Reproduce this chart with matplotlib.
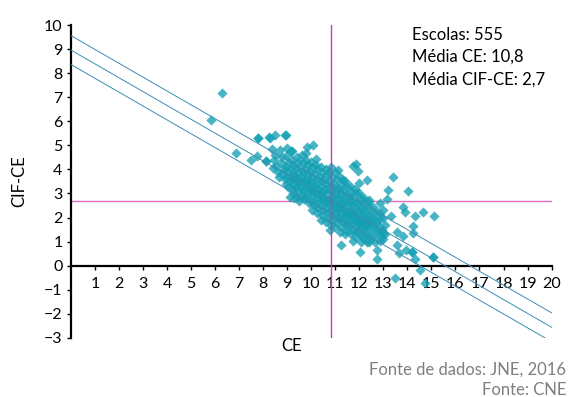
import matplotlib
matplotlib.use('Agg')
import matplotlib.pyplot as plt

plt.rcParams['font.family'] = ['Lato', 'DejaVu Sans']

# schools far from the main cloud (CE, CIF-CE)
upper_left = [
    (6.27, 7.17), (5.83, 6.06), (6.85, 4.70), (7.50, 4.41), (7.77, 5.32),
    (7.77, 5.32), (7.74, 4.56), (8.11, 4.33), (8.11, 4.33), (8.25, 5.34),
    (8.30, 5.30), (8.50, 5.42), (8.91, 5.44), (8.38, 4.85), (8.93, 5.42),
    (10.08, 5.03), (9.81, 4.91), (9.14, 4.77),
]
upper_right = [
    (11.12, 3.98), (11.72, 4.16), (11.86, 4.22), (11.96, 3.93), (11.33, 3.57),
    (12.33, 3.54), (12.00, 3.43), (13.41, 3.69), (13.20, 3.15), (14.04, 3.11),
    (12.41, 2.73), (12.86, 2.60), (13.16, 2.77), (13.80, 2.44), (13.91, 2.21),
    (14.30, 2.05), (14.66, 2.21), (15.12, 2.05), (13.00, 2.30), (13.32, 2.05),
]
lower_right = [
    (14.25, 1.66), (14.22, 1.36), (13.55, 1.38), (13.83, 1.22), (13.55, 0.87),
    (13.66, 0.53), (13.94, 0.66), (14.18, 0.55), (14.18, 0.55), (14.32, 0.29),
    (15.08, 0.34), (15.08, 0.34), (14.52, -0.19), (13.48, -0.51), (14.73, -0.72),
    (12.72, 0.66), (12.72, 0.29), (12.03, 0.55), (11.24, 0.84), (10.78, 1.49),
    (11.72, 1.01), (12.86, 1.01), (12.97, 1.36),
]
core = [
    (8.45, 4.40), (8.55, 4.15), (8.60, 3.90), (8.50, 4.60), (8.65, 3.70), (8.40, 4.05),
    (8.80, 4.50), (8.75, 4.25), (8.85, 4.00), (8.80, 3.80), (8.90, 3.60), (8.70, 4.80), (8.95, 3.40),
    (9.00, 4.60), (9.05, 4.30), (8.95, 4.10), (9.05, 3.90), (9.00, 3.70), (9.10, 3.50),
    (9.05, 3.25), (9.10, 2.85), (9.00, 4.90),
    (9.20, 4.40), (9.25, 4.20), (9.15, 4.00), (9.25, 3.80), (9.20, 3.60), (9.30, 3.40),
    (9.20, 3.20), (9.25, 3.00), (9.30, 2.80), (9.20, 4.75),
    (9.40, 4.50), (9.45, 4.30), (9.35, 4.05), (9.45, 3.85), (9.40, 3.65), (9.50, 3.45),
    (9.35, 3.25), (9.45, 3.05), (9.40, 2.85), (9.50, 2.70),
    (9.60, 4.60), (9.65, 4.30), (9.55, 4.10), (9.65, 3.90), (9.60, 3.70), (9.70, 3.50),
    (9.55, 3.30), (9.65, 3.10), (9.60, 2.90), (9.70, 2.75),
    (9.80, 4.40), (9.85, 4.20), (9.75, 4.00), (9.85, 3.80), (9.80, 3.60), (9.90, 3.40),
    (9.75, 3.20), (9.85, 3.00), (9.80, 2.80), (9.90, 2.60), (9.80, 4.70),
    (10.00, 4.30), (10.05, 4.10), (9.95, 3.90), (10.05, 3.70), (10.00, 3.50), (10.10, 3.30),
    (9.95, 3.10), (10.05, 2.90), (10.00, 2.70), (10.10, 2.50), (10.05, 2.30),
    (10.20, 4.20), (10.25, 4.00), (10.15, 3.80), (10.25, 3.60), (10.20, 3.40), (10.30, 3.20),
    (10.15, 3.00), (10.25, 2.80), (10.20, 2.60), (10.30, 2.40), (10.25, 2.20), (10.20, 4.45),
    (10.40, 4.10), (10.45, 3.90), (10.35, 3.70), (10.45, 3.50), (10.40, 3.30), (10.50, 3.10),
    (10.35, 2.90), (10.45, 2.70), (10.40, 2.50), (10.50, 2.30), (10.45, 2.10), (10.40, 1.90),
    (10.60, 4.00), (10.65, 3.80), (10.55, 3.60), (10.65, 3.40), (10.60, 3.20), (10.70, 3.00),
    (10.55, 2.80), (10.65, 2.60), (10.60, 2.40), (10.70, 2.20), (10.65, 2.00), (10.60, 1.80),
    (10.80, 4.10), (10.85, 3.70), (10.75, 3.50), (10.85, 3.30), (10.80, 3.10), (10.90, 2.90),
    (10.75, 2.70), (10.85, 2.50), (10.80, 2.30), (10.90, 2.10), (10.85, 1.90), (10.80, 1.70),
    (10.75, 3.90),
    (11.00, 3.90), (11.05, 3.60), (10.95, 3.40), (11.05, 3.20), (11.00, 3.00), (11.10, 2.80),
    (10.95, 2.60), (11.05, 2.40), (11.00, 2.20), (11.10, 2.00), (11.05, 1.80), (11.00, 1.60),
    (11.20, 3.70), (11.25, 3.40), (11.15, 3.20), (11.25, 3.00), (11.20, 2.80), (11.30, 2.60),
    (11.15, 2.40), (11.25, 2.20), (11.20, 2.00), (11.30, 1.80), (11.25, 1.60), (11.20, 1.40),
    (11.40, 3.50), (11.45, 3.30), (11.35, 3.10), (11.45, 2.90), (11.40, 2.70), (11.50, 2.50),
    (11.35, 2.30), (11.45, 2.10), (11.40, 1.90), (11.50, 1.70), (11.45, 1.50), (11.40, 1.30),
    (11.60, 3.30), (11.65, 3.10), (11.55, 2.90), (11.65, 2.70), (11.60, 2.50), (11.70, 2.30),
    (11.55, 2.10), (11.65, 1.90), (11.60, 1.70), (11.70, 1.50), (11.65, 1.30),
    (11.80, 3.20), (11.85, 3.00), (11.75, 2.80), (11.85, 2.60), (11.80, 2.40), (11.90, 2.20),
    (11.75, 2.00), (11.85, 1.80), (11.80, 1.60), (11.90, 1.40), (11.85, 1.20),
    (12.00, 3.00), (12.05, 2.80), (11.95, 2.60), (12.05, 2.40), (12.00, 2.20), (12.10, 2.00),
    (11.95, 1.80), (12.05, 1.60), (12.00, 1.40), (12.10, 1.20), (12.05, 1.00),
    (12.20, 2.80), (12.25, 2.60), (12.15, 2.40), (12.25, 2.20), (12.20, 2.00), (12.30, 1.80),
    (12.15, 1.60), (12.25, 1.40), (12.20, 1.20), (12.30, 1.00),
    (12.40, 2.60), (12.45, 2.40), (12.35, 2.20), (12.45, 2.00), (12.40, 1.80), (12.50, 1.60),
    (12.35, 1.40), (12.45, 1.20), (12.40, 1.00),
    (12.60, 2.40), (12.65, 2.20), (12.55, 2.00), (12.65, 1.80), (12.60, 1.60), (12.70, 1.40),
    (12.55, 1.20), (12.65, 1.00),
    (12.80, 2.20), (12.85, 2.00), (12.75, 1.80), (12.85, 1.60), (12.80, 1.40), (12.90, 1.20),
    (13.00, 2.00), (13.05, 1.70), (12.95, 1.50), (13.05, 1.30), (13.00, 1.10),
    # denser middle of the cloud
    (9.50, 3.60), (9.90, 3.30), (10.10, 3.10), (10.30, 3.00), (10.50, 2.80), (10.70, 2.70),
    (10.90, 2.60), (11.10, 2.50), (11.30, 2.30), (11.50, 2.20), (11.70, 2.10), (11.90, 1.90),
    (12.10, 1.80), (12.30, 1.70), (10.00, 3.20), (10.40, 3.00), (10.80, 2.80), (11.20, 2.50),
    (11.60, 2.20), (12.00, 1.90), (9.70, 3.40), (9.30, 3.70),
]

# trend line and band
slope = -0.576
intercept = 8.96
band = 0.6
mean_ce = 10.8
mean_cif = 2.7

x_ticks = list(range(1, 21))
y_ticks = list(range(-3, 11))

points = upper_left + upper_right + lower_right + core
ce = [p[0] for p in points]
cif_ce = [p[1] for p in points]

fig = plt.figure(figsize=(5.71, 3.97), dpi=100)
ax = fig.add_axes([0.1243, 0.149, 0.8417, 0.788])

ax.scatter(ce, cif_ce, marker='D', s=27, color='#14a0b4', alpha=0.78,
           linewidths=0, zorder=2)

line_color = '#3a8db3'
for off in (band, 0, -band):
    ax.axline((0, intercept + off), slope=slope, color=line_color, lw=0.7, zorder=3)

ax.axvline(mean_ce, color='#d0399f', lw=1.0, zorder=4)
ax.axhline(mean_cif, color='#e070b8', lw=1.0, zorder=1)

ax.set_xlim(0, 20)
ax.set_ylim(-3, 10)
ax.spines['top'].set_visible(False)
ax.spines['right'].set_visible(False)
ax.spines['bottom'].set_position(('data', 0))
ax.spines['left'].set_linewidth(1.6)
ax.spines['bottom'].set_linewidth(1.6)

ax.set_xticks(x_ticks)
ax.set_yticks(y_ticks)
ax.tick_params(axis='x', direction='out', length=3, width=1, pad=5, labelsize=11.5)
ax.tick_params(axis='y', direction='out', length=3, width=1, pad=3, labelsize=11.5)

fig.text(0.511, 0.128, 'CE', ha='center', va='center', fontsize=12)
fig.text(0.033, 0.544, 'CIF-CE', ha='center', va='center', rotation=90, fontsize=12)

ax.text(0.71, 0.995, 'Escolas: 555\nMédia CE: 10,8\nMédia CIF-CE: 2,7',
        transform=ax.transAxes, ha='left', va='top', fontsize=12, linespacing=1.5)

fig.text(0.992, 0.068, 'Fonte de dados: JNE, 2016', ha='right', va='center',
         fontsize=12, color='#7f7f7f')
fig.text(0.992, 0.018, 'Fonte: CNE', ha='right', va='center',
         fontsize=12, color='#7f7f7f')

fig.savefig('out.png', dpi=100)
